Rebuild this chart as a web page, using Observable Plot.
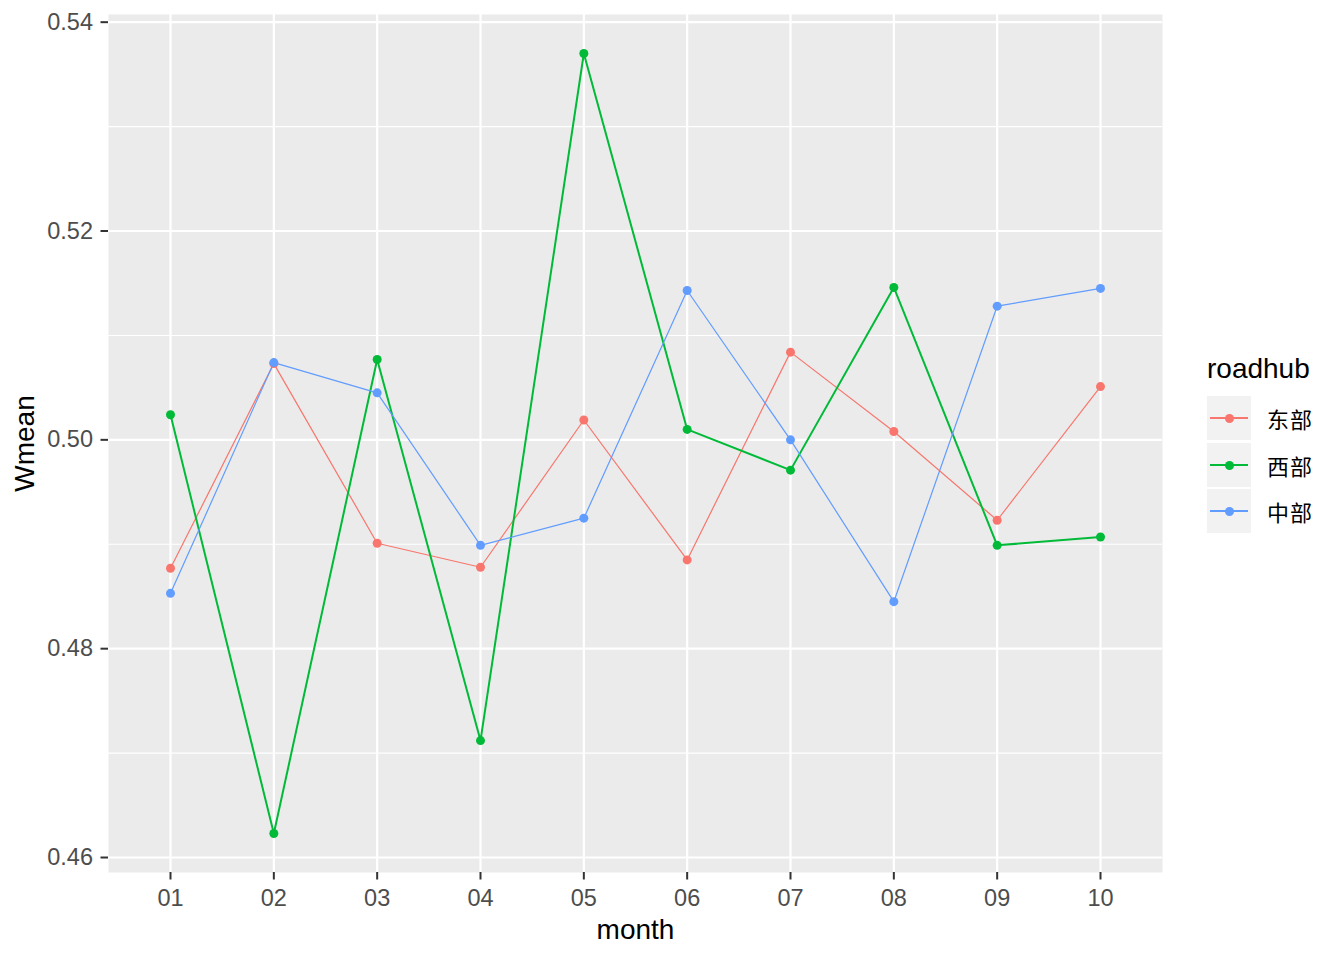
<!DOCTYPE html>
<html>
<head>
<meta charset="utf-8">
<script src="https://cdn.jsdelivr.net/npm/d3@7"></script>
<script src="https://cdn.jsdelivr.net/npm/@observablehq/plot@0.6"></script>
<style>
  html, body { margin: 0; padding: 0; background: #fff; }
  #wrap { position: relative; width: 1344px; height: 960px; font-family: "Liberation Sans", Arial, sans-serif; }
  #legend { position: absolute; left: 1207px; top: 0; }
  .ltitle { position: absolute; left: 0; top: 355px; font-size: 28px; color: #000; line-height: 28px; white-space: nowrap; }
  .lkey { position: absolute; left: 0; width: 44px; height: 44px; background: #F2F2F2; }
  .lline { position: absolute; left: 3px; top: 21px; width: 38px; height: 1.6px; }
  .ldot { position: absolute; left: 17.5px; top: 17.5px; width: 9px; height: 9px; border-radius: 50%; }
  .ltext { position: absolute; left: 60px; height: 44px; line-height: 44px; font-size: 22px; letter-spacing: 1px; font-family: "Noto Sans CJK SC", sans-serif; color: #000; white-space: nowrap; }
</style>
</head>
<body>
<div id="wrap"><div id="chart"></div><div id="legend"></div></div>
<script>
const months = ["01","02","03","04","05","06","07","08","09","10"];
const regions = ["东部","西部","中部"];
const regionColors = ["#F8766D","#00BA38","#619CFF"];
const eastValues    = [0.4877,0.5073,0.4901,0.4878,0.5019,0.4885,0.5084,0.5008,0.4923,0.5051];
const westValues    = [0.5024,0.4623,0.5077,0.4712,0.5370,0.5010,0.4971,0.5146,0.4899,0.4907];
const centralValues = [0.4853,0.5074,0.5045,0.4899,0.4925,0.5143,0.5000,0.4845,0.5128,0.5145];
const yTicks = [0.46,0.48,0.50,0.52,0.54];
const yMinorTicks = [0.47,0.49,0.51,0.53];

const seriesValues = [eastValues, westValues, centralValues];
const data = [];
regions.forEach((r, i) => months.forEach((m, j) => data.push({month: m, region: r, value: seriesValues[i][j]})));

const [lo, hi] = d3.extent(data, d => d.value);
const pad = (hi - lo) * 0.05;

const chart = Plot.plot({
  width: 1344,
  height: 960,
  marginLeft: 108,
  marginRight: 182,
  marginTop: 14,
  marginBottom: 88,
  style: {fontFamily: "'Liberation Sans', Arial, sans-serif", background: "white"},
  x: {type: "point", domain: months, padding: 0.6, round: false},
  y: {domain: [lo - pad, hi + pad]},
  color: {domain: regions, range: regionColors},
  marks: [
    Plot.frame({fill: "#EBEBEB", stroke: null}),
    Plot.gridY(yMinorTicks, {stroke: "white", strokeOpacity: 1, strokeWidth: 1.1}),
    Plot.gridY(yTicks, {stroke: "white", strokeOpacity: 1, strokeWidth: 2.2}),
    Plot.gridX(months, {stroke: "white", strokeOpacity: 1, strokeWidth: 2.2}),
    Plot.line(data.filter(d => d.region === "东部"), {x: "month", y: "value", stroke: "region", strokeWidth: 1.2}),
    Plot.line(data.filter(d => d.region === "西部"), {x: "month", y: "value", stroke: "region", strokeWidth: 2}),
    Plot.line(data.filter(d => d.region === "中部"), {x: "month", y: "value", stroke: "region", strokeWidth: 1.2}),
    Plot.dot(data, {x: "month", y: "value", fill: "region", r: 4.5, stroke: null}),
    Plot.axisY(yTicks, {tickFormat: d3.format(".2f"), tickSize: 7.5, tickPadding: 8, fontSize: 23.5, stroke: "#333333", strokeWidth: 2, fill: "#4D4D4D",
      label: "Wmean", labelAnchor: "center", labelArrow: "none", labelOffset: 94}),
    Plot.axisX(months, {tickSize: 7.5, tickPadding: 9, fontSize: 23.5, stroke: "#333333", strokeWidth: 2, fill: "#4D4D4D",
      label: "month", labelAnchor: "center", labelArrow: "none", labelOffset: 66})
  ]
});
document.getElementById("chart").appendChild(chart);

// style axis titles
chart.querySelectorAll("[aria-label='x-axis label'], [aria-label='y-axis label']").forEach(g => {
  g.setAttribute("font-size", "28");
  g.setAttribute("fill", "#000");
  g.querySelectorAll("text").forEach(t => { t.setAttribute("font-size", "28"); t.setAttribute("fill", "#000"); });
});

// legend
const legend = document.getElementById("legend");
const title = document.createElement("div");
title.className = "ltitle";
title.textContent = "roadhub";
legend.appendChild(title);
const keyTops = [396, 443, 489];
regions.forEach((r, i) => {
  const key = document.createElement("div");
  key.className = "lkey";
  key.style.top = keyTops[i] + "px";
  const line = document.createElement("div");
  line.className = "lline";
  line.style.background = regionColors[i];
  const dot = document.createElement("div");
  dot.className = "ldot";
  dot.style.background = regionColors[i];
  key.appendChild(line); key.appendChild(dot);
  const txt = document.createElement("div");
  txt.className = "ltext";
  txt.style.top = keyTops[i] + "px";
  txt.textContent = r;
  legend.appendChild(key); legend.appendChild(txt);
});
</script>
</body>
</html>
